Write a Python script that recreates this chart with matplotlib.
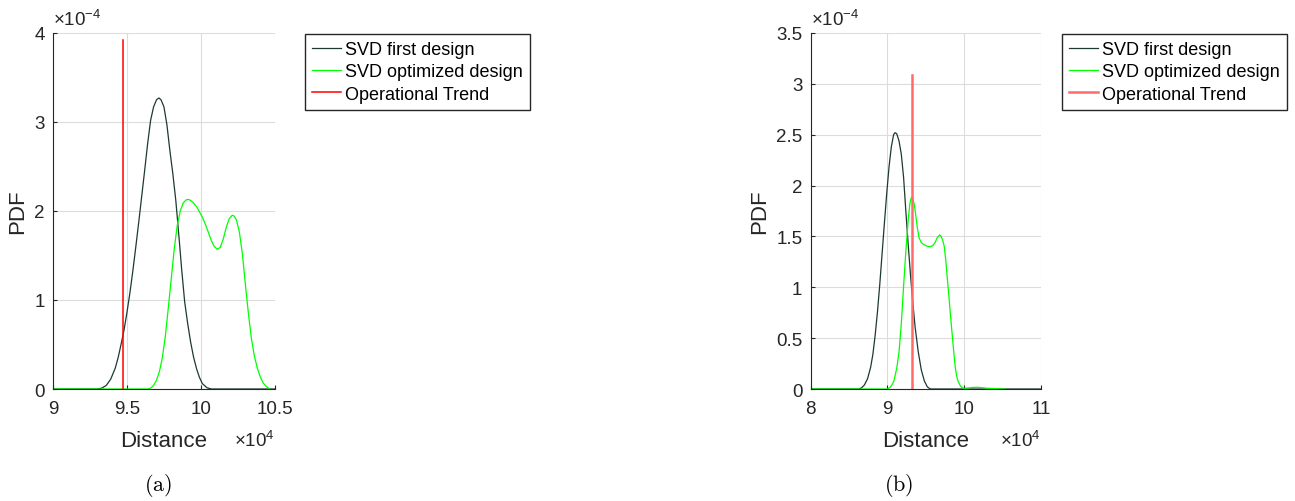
import numpy as np
import matplotlib
matplotlib.use('Agg')
from matplotlib import pyplot as plt

plt.rcParams['font.family'] = ['Liberation Sans', 'DejaVu Sans']
plt.rcParams['mathtext.fontset'] = 'custom'
plt.rcParams['mathtext.rm'] = 'Liberation Sans'
plt.rcParams['mathtext.it'] = 'Liberation Sans:italic'

# (a) PDF curves, distance in units of 1e4, density in units of 1e-4
a_first_x = [9.00, 9.30, 9.33, 9.36, 9.39, 9.42, 9.44, 9.46, 9.48, 9.50, 9.52, 9.54, 9.56, 9.58,
             9.60, 9.62, 9.64, 9.66, 9.68, 9.70, 9.716, 9.73, 9.75, 9.77, 9.79, 9.81, 9.83, 9.85,
             9.87, 9.89, 9.91, 9.93, 9.95, 9.97, 9.99, 10.01, 10.04, 10.07, 10.50]
a_first_y = [0.0, 0.0, 0.01, 0.04, 0.11, 0.23, 0.35, 0.50, 0.66, 0.86, 1.08, 1.33, 1.60, 1.88,
             2.17, 2.46, 2.76, 3.02, 3.17, 3.25, 3.27, 3.25, 3.17, 2.97, 2.68, 2.42, 2.12, 1.74,
             1.34, 0.98, 0.74, 0.53, 0.36, 0.23, 0.13, 0.06, 0.015, 0.0, 0.0]
a_opt_x = [9.00, 9.64, 9.66, 9.68, 9.70, 9.72, 9.74, 9.76, 9.78, 9.80, 9.82, 9.84, 9.86, 9.88,
           9.90, 9.914, 9.93, 9.95, 9.97, 9.99, 10.01, 10.03, 10.05, 10.07, 10.09, 10.11, 10.13,
           10.15, 10.17, 10.19, 10.21, 10.22, 10.24, 10.26, 10.28, 10.30, 10.32, 10.34, 10.36,
           10.38, 10.40, 10.42, 10.44, 10.466]
a_opt_y = [0.0, 0.0, 0.01, 0.04, 0.10, 0.20, 0.36, 0.60, 0.92, 1.25, 1.58, 1.84, 2.00, 2.09,
           2.125, 2.13, 2.12, 2.09, 2.05, 1.99, 1.93, 1.85, 1.76, 1.67, 1.60, 1.57, 1.59,
           1.68, 1.81, 1.91, 1.95, 1.95, 1.90, 1.76, 1.52, 1.18, 0.86, 0.58, 0.38,
           0.24, 0.14, 0.07, 0.03, 0.0]
a_trend_x = 9.471
a_trend_top = 3.92

# (b)
b_first_x = [8.00, 8.62, 8.66, 8.70, 8.74, 8.78, 8.81, 8.84, 8.87, 8.90, 8.93, 8.96, 8.99, 9.02,
             9.05, 9.08, 9.098, 9.12, 9.15, 9.18, 9.21, 9.24, 9.27, 9.30, 9.33, 9.36, 9.40, 9.44,
             9.48, 9.52, 9.56, 11.00]
b_first_y = [0.0, 0.0, 0.01, 0.04, 0.10, 0.21, 0.34, 0.53, 0.76, 1.03, 1.33, 1.63, 1.92, 2.18,
             2.38, 2.50, 2.52, 2.51, 2.44, 2.31, 2.08, 1.74, 1.42, 1.12, 0.85, 0.61, 0.37, 0.19,
             0.08, 0.02, 0.0, 0.0]
b_opt_x = [8.00, 9.00, 9.04, 9.08, 9.12, 9.15, 9.18, 9.21, 9.24, 9.27, 9.29, 9.305, 9.315, 9.33,
           9.35, 9.37, 9.39, 9.41, 9.44, 9.47, 9.50, 9.53, 9.56, 9.59, 9.62, 9.65, 9.68, 9.70,
           9.72, 9.74, 9.76, 9.78, 9.80, 9.82, 9.84, 9.86, 9.88, 9.90, 9.92, 9.95, 9.98, 10.00,
           10.05, 10.10, 10.16, 10.22, 10.29, 10.40, 10.53]
b_opt_y = [0.0, 0.0, 0.02, 0.07, 0.20, 0.36, 0.64, 1.01, 1.36, 1.66, 1.81, 1.87, 1.885, 1.87,
           1.81, 1.70, 1.58, 1.49, 1.44, 1.42, 1.41, 1.40, 1.40, 1.41, 1.44, 1.49, 1.515, 1.50,
           1.46, 1.40, 1.26, 1.08, 0.91, 0.73, 0.56, 0.39, 0.23, 0.13, 0.075, 0.03, 0.01, 0.007,
           0.01, 0.015, 0.017, 0.014, 0.008, 0.004, 0.0]
b_trend_x = 9.315
b_trend_top = 3.09

labels = ['SVD first design', 'SVD optimized design', 'Operational Trend']
ink = '#262626'
first_color = '#1c3a31'
opt_color = '#00ff00'


def style_axes(ax, xlim, xticks, ylim, yticks, ytick_labels):
    ax.set_xlim(xlim)
    ax.set_ylim(ylim)
    ax.set_xticks(xticks)
    ax.set_xticklabels([('%g' % t) for t in xticks])
    ax.set_yticks(yticks)
    ax.set_yticklabels(ytick_labels)
    ax.grid(True, color='#dcdcdc', linewidth=0.8)
    ax.set_axisbelow(True)
    for side in ['top', 'right']:
        ax.spines[side].set_visible(False)
    for side in ['left', 'bottom']:
        ax.spines[side].set_color(ink)
        ax.spines[side].set_linewidth(0.8)
    ax.tick_params(direction='in', length=3, colors=ink, labelsize=13.5, pad=6)
    ax.tick_params(axis='x', pad=8)
    ax.set_xlabel('Distance', fontsize=16, color=ink, labelpad=9)
    ax.set_ylabel('PDF', fontsize=16, color=ink, labelpad=4)
    ax.text(0.0, 1.01, '\u00d710$^{-4}$', transform=ax.transAxes, fontsize=13.5,
            color=ink, ha='left', va='bottom')
    ax.text(1.0, -0.115, '\u00d710$^{4}$', transform=ax.transAxes, fontsize=13.5,
            color=ink, ha='right', va='top')


def add_legend(fig, handles, x_left):
    fig.legend(handles, labels, loc='upper left', bbox_to_anchor=(x_left, 0.931),
               fontsize=13, frameon=True, fancybox=False, edgecolor=ink, framealpha=1,
               handlelength=1.6, handletextpad=0.2, borderpad=0.4, labelspacing=0.3,
               borderaxespad=0)


fig = plt.figure(figsize=(12.95, 5.02), dpi=100)
ax1 = fig.add_axes([0.0409, 0.2231, 0.1714, 0.7092])
ax2 = fig.add_axes([0.6260, 0.2231, 0.1779, 0.7092])

l1, = ax1.plot(a_first_x, a_first_y, color=first_color, linewidth=0.9)
l2, = ax1.plot(a_opt_x, a_opt_y, color=opt_color, linewidth=0.9)
l3, = ax1.plot([a_trend_x, a_trend_x], [0, a_trend_top], color='#ff0000', linewidth=1.1)
style_axes(ax1, (9, 10.5), [9, 9.5, 10, 10.5], (0, 4), [0, 1, 2, 3, 4],
           ['0', '1', '2', '3', '4'])
add_legend(fig, [l1, l2, l3], 0.2355)

m1, = ax2.plot(b_first_x, b_first_y, color=first_color, linewidth=0.9)
m2, = ax2.plot(b_opt_x, b_opt_y, color=opt_color, linewidth=0.9)
m3, = ax2.plot([b_trend_x, b_trend_x], [0, b_trend_top], color='#ff6a6a', linewidth=1.8)
style_axes(ax2, (8, 11), [8, 9, 10, 11], (0, 3.5), [0, 0.5, 1, 1.5, 2, 2.5, 3, 3.5],
           ['0', '0.5', '1', '1.5', '2', '2.5', '3', '3.5'])
add_legend(fig, [m1, m2, m3], 0.8201)

fig.text(158 / 1295, 1 - 486 / 502, r'$\mathrm{(a)}$', fontsize=16, ha='center', va='center',
         math_fontfamily='cm')
fig.text(899 / 1295, 1 - 486 / 502, r'$\mathrm{(b)}$', fontsize=16, ha='center', va='center',
         math_fontfamily='cm')

fig.savefig('out.png', dpi=100)
